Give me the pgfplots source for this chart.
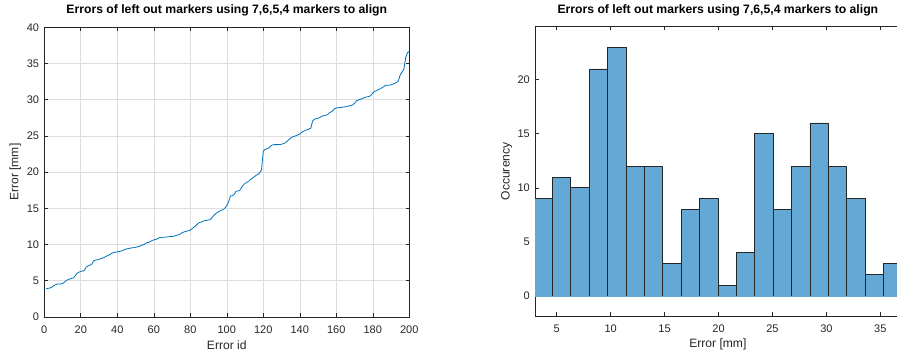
\documentclass[border=0pt]{standalone}
\usepackage{pgfplots}
\pgfplotsset{compat=1.18}
\usepackage{fontspec}
\setmainfont{Liberation Sans}
\definecolor{mlblue}{rgb}{0,0.447,0.741}
\definecolor{axgray}{rgb}{0.15,0.15,0.15}
\definecolor{gridgray}{RGB}{222,222,222}
\definecolor{histfill}{RGB}{100,168,214}
\pgfplotsset{
  mlstyle/.style={
    scale only axis,
    anchor=south west,
    axis line style={axgray, line width=0.7pt},
    tick style={axgray, line width=0.6pt},
    tick align=inside,
    tick pos=both,
    major tick length=3.7pt,
    /pgf/number format/assume math mode=true,
    ticklabel style={font=\fontsize{11}{13}\selectfont, text=axgray},
    xticklabel style={anchor=base, yshift=-16.2pt, inner sep=0pt},
    yticklabel style={anchor=east, inner sep=0pt, xshift=-5pt},
    label style={font=\fontsize{12.1}{14}\selectfont, text=axgray},
    title style={font=\bfseries\fontsize{12.2}{14}\selectfont, text=black, anchor=center},
    clip=true,
  }
}
\begin{document}
\begin{tikzpicture}
\path[use as bounding box] (0pt,0pt) rectangle (897pt,356pt);
\begin{axis}[mlstyle,
  at={(44.3pt,39pt)}, width=365pt, height=289.7pt,
  xmin=0, xmax=200, ymin=0, ymax=40,
  xtick={0,20,...,200}, ytick={0,5,...,40},
  grid=major, major grid style={gridgray, line width=0.6pt},
  title={Errors of left out markers using 7,6,5,4 markers to align},
  title style={at={(axis description cs:0.5,1)}, yshift=11pt},
  xlabel={Error id}, ylabel={Error [mm]},
  xlabel style={at={(axis description cs:0.5,-0.0967)}, anchor=center},
  ylabel style={at={(axis description cs:-0.0795,0.5)}, anchor=center},
]
\addplot[mlblue, line width=0.8pt] coordinates {
(1,3.90) (2,3.95) (3,4.00) (4,4.10) (5,4.30) (6,4.45) (7,4.55) (8,4.55) (9,4.58) (10,4.62)
(11,4.80) (12,5.05) (13,5.15) (14,5.25) (15,5.35) (16,5.40) (17,5.70) (18,6.05) (19,6.20) (20,6.28)
(21,6.35) (22,6.45) (23,6.90) (24,7.05) (25,7.15) (26,7.30) (27,7.75) (28,7.85) (29,7.90) (30,7.98)
(31,8.05) (32,8.15) (33,8.25) (34,8.40) (35,8.50) (36,8.65) (37,8.80) (38,8.90) (39,8.95) (40,9.00)
(41,9.05) (42,9.10) (43,9.20) (44,9.30) (45,9.40) (46,9.45) (47,9.50) (48,9.55) (49,9.58) (50,9.62)
(51,9.68) (52,9.75) (53,9.85) (54,9.95) (55,10.05) (56,10.25) (57,10.30) (58,10.40) (59,10.55) (60,10.65)
(61,10.70) (62,10.80) (63,10.95) (64,11.00) (65,11.00) (66,11.02) (67,11.05) (68,11.08) (69,11.10) (70,11.12)
(71,11.15) (72,11.25) (73,11.32) (74,11.38) (75,11.55) (76,11.70) (77,11.78) (78,11.85) (79,11.92) (80,12.00)
(81,12.20) (82,12.40) (83,12.60) (84,12.85) (85,13.05) (86,13.10) (87,13.25) (88,13.30) (89,13.35) (90,13.40)
(91,13.45) (92,13.75) (93,14.05) (94,14.30) (95,14.45) (96,14.60) (97,14.75) (98,14.82) (99,15.05) (100,15.40)
(101,15.90) (102,16.70) (103,16.75) (104,16.90) (105,17.35) (106,17.40) (107,17.45) (108,17.85) (109,18.20) (110,18.45)
(111,18.60) (112,18.75) (113,19.00) (114,19.15) (115,19.35) (116,19.55) (117,19.70) (118,19.90) (119,20.30) (120,22.90)
(121,23.15) (122,23.25) (123,23.33) (124,23.60) (125,23.75) (126,23.80) (127,23.80) (128,23.80) (129,23.82) (130,23.85)
(131,23.95) (132,24.05) (133,24.25) (134,24.50) (135,24.70) (136,24.85) (137,24.95) (138,25.05) (139,25.15) (140,25.25)
(141,25.50) (142,25.65) (143,25.75) (144,25.85) (145,25.95) (146,26.05) (147,27.05) (148,27.30) (149,27.40) (150,27.45)
(151,27.55) (152,27.70) (153,27.80) (154,27.85) (155,27.90) (156,28.15) (157,28.30) (158,28.45) (159,28.75) (160,28.85)
(161,28.90) (162,28.92) (163,28.95) (164,29.00) (165,29.02) (166,29.08) (167,29.15) (168,29.20) (169,29.30) (170,29.50)
(171,29.85) (172,29.95) (173,30.05) (174,30.15) (175,30.25) (176,30.35) (177,30.40) (178,30.45) (179,30.60) (180,30.95)
(181,31.15) (182,31.25) (183,31.40) (184,31.50) (185,31.65) (186,31.80) (187,31.98) (188,32.00) (189,32.02) (190,32.05)
(191,32.15) (192,32.25) (193,32.40) (194,32.60) (195,33.40) (196,33.80) (197,34.20) (198,35.80) (199,36.50) (200,36.70)
};
\end{axis}
\begin{axis}[mlstyle,
  at={(535pt,40pt)}, width=365.7pt, height=289.3pt,
  xmin=2.99, xmax=36.89, ymin=-1.85, ymax=24.9,
  xtick={5,10,...,35}, ytick={0,5,...,20},
  title={Errors of left out markers using 7,6,5,4 markers to align},
  title style={at={(axis description cs:0.5,1)}, yshift=10.5pt},
  xlabel={Error [mm]}, ylabel={Occurency},
  xlabel style={at={(axis description cs:0.5,-0.0967)}, anchor=center},
  ylabel style={at={(axis description cs:-0.0776,0.5)}, anchor=center},
]
\addplot[ybar interval, fill=histfill, draw=axgray, line width=0.7pt] coordinates {
(2.884,9) (4.590,11) (6.296,10) (8.001,21) (9.707,23) (11.413,12) (13.119,12) (14.825,3)
(16.530,8) (18.236,9) (19.942,1) (21.648,4) (23.354,15) (25.059,8) (26.765,12) (28.471,16)
(30.177,12) (31.883,9) (33.588,2) (35.294,3) (37.000,3)
};
\addplot[histfill, line width=0.9pt, forget plot] coordinates {(2.8,0) (37.1,0)};
\end{axis}
\end{tikzpicture}
\end{document}
